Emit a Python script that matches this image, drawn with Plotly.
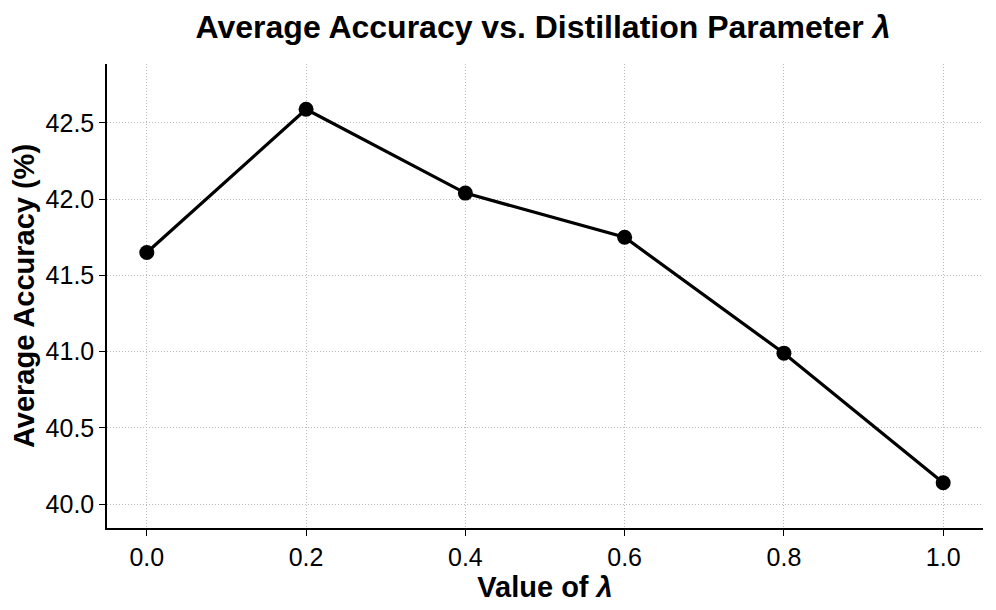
import plotly.graph_objects as go

lambda_values = [0.0, 0.2, 0.4, 0.6, 0.8, 1.0]
avg_accuracy = [41.65, 42.59, 42.04, 41.75, 40.99, 40.14]
x_ticks = [0.0, 0.2, 0.4, 0.6, 0.8, 1.0]
x_tick_labels = ["0.0", "0.2", "0.4", "0.6", "0.8", "1.0"]
y_ticks = [40.0, 40.5, 41.0, 41.5, 42.0, 42.5]
y_tick_labels = ["40.0", "40.5", "41.0", "41.5", "42.0", "42.5"]

fig = go.Figure()
fig.add_trace(go.Scatter(
    x=lambda_values, y=avg_accuracy, mode="lines+markers",
    line=dict(color="black", width=3.2),
    marker=dict(color="black", size=15),
    showlegend=False,
))

font = "Liberation Sans, Arial, sans-serif"
fig.update_layout(
    width=988, height=602,
    margin=dict(l=99, r=13, t=56, b=82),
    paper_bgcolor="white", plot_bgcolor="white",
    font=dict(family=font, color="black"),
    title=dict(text="<b>Average Accuracy vs. Distillation Parameter <i>λ</i></b>",
               x=0.5415, xanchor="center", y=0.968, yanchor="middle",
               font=dict(size=32, family=font, color="black")),
)
fig.update_xaxes(
    range=[-0.05, 1.05], tickvals=x_ticks, ticktext=x_tick_labels,
    automargin=False,
    showline=True, linecolor="black", linewidth=1.5,
    ticks="outside", ticklen=6, tickwidth=1.2, tickcolor="black",
    tickfont=dict(size=25),
    showgrid=True, gridcolor="#b8b8b8", griddash="1px,2px", gridwidth=1,
    zeroline=False,
    title=dict(text="<b>Value of <i>λ</i></b>", font=dict(size=29), standoff=5),
)
fig.update_yaxes(
    range=[39.843, 42.887], tickvals=y_ticks, ticktext=y_tick_labels,
    automargin=False,
    showline=True, linecolor="black", linewidth=1.5,
    ticks="outside", ticklen=6, tickwidth=1.2, tickcolor="black",
    tickfont=dict(size=25),
    showgrid=True, gridcolor="#b8b8b8", griddash="1px,2px", gridwidth=1,
    zeroline=False,
    title=dict(text="<b>Average Accuracy (%)</b>", font=dict(size=29), standoff=8),
)

fig.write_html("out.html")
